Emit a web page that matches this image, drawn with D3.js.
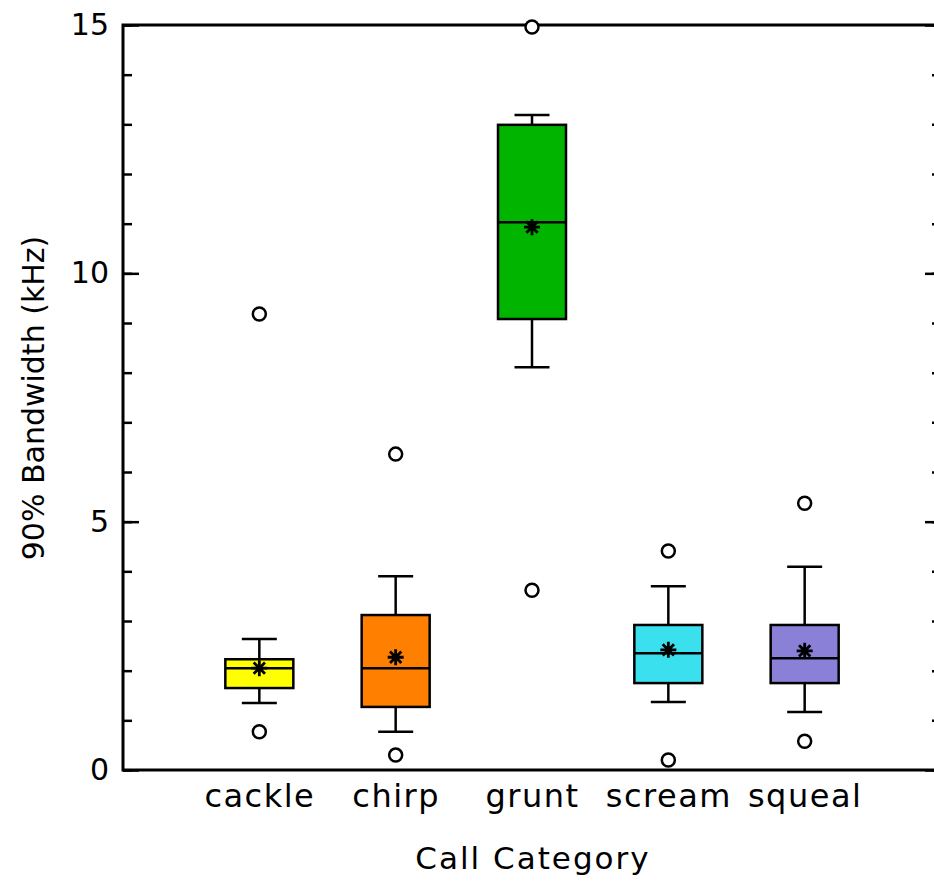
<!DOCTYPE html>
<html>
<head>
<meta charset="utf-8">
<script src="https://cdn.jsdelivr.net/npm/d3@7"></script>
<style>
  html, body { margin: 0; padding: 0; background: #fff; }
  svg { display: block; }
  text { font-family: "DejaVu Sans", sans-serif; fill: #000; }
</style>
</head>
<body>
<svg id="chart" width="934" height="881"></svg>
<script>
const categories = ["cackle", "chirp", "grunt", "scream", "squeal"];
const whiskerLow  = [1.35, 0.77, 8.11, 1.37, 1.17];
const q1          = [1.65, 1.27, 9.08, 1.75, 1.75];
const medians     = [2.05, 2.05, 11.03, 2.35, 2.25];
const q3          = [2.23, 3.12, 12.99, 2.92, 2.92];
const whiskerHigh = [2.64, 3.90, 13.19, 3.70, 4.09];
const means       = [2.05, 2.27, 10.93, 2.42, 2.40];
const outliers    = [[0.77, 9.18], [0.30, 6.36], [3.62, 14.96], [0.20, 4.41], [0.58, 5.37]];
const boxColors   = ["#ffff00", "#ff8000", "#00b400", "#3ae0ee", "#8b80d8"];
const majorTicks  = [0, 5, 10, 15];
const minorTicks  = d3.range(0, 16, 1);
const xTitle = "Call Category";
const yTitle = "90% Bandwidth (kHz)";

const svg = d3.select("#chart");
const x = d3.scaleLinear().domain([0, categories.length + 1]).range([123, 941]);
const y = d3.scaleLinear().domain([0, 15]).range([770, 25]);
const boxW = 68, capW = 35, sw = 2.5;

// minor ticks
svg.append("g").attr("transform", `translate(${x(0)},0)`)
  .call(d3.axisLeft(y).tickValues(minorTicks).tickSize(-9).tickFormat(""))
  .call(g => g.select(".domain").remove())
  .call(g => g.selectAll("line").attr("stroke", "#000").attr("stroke-width", sw));
svg.append("g").attr("transform", `translate(${x(6)},0)`)
  .call(d3.axisRight(y).tickValues(minorTicks).tickSize(-9).tickFormat(""))
  .call(g => g.select(".domain").remove())
  .call(g => g.selectAll("line").attr("stroke", "#000").attr("stroke-width", sw));

// major ticks
svg.append("g").attr("transform", `translate(${x(0)},0)`)
  .call(d3.axisLeft(y).tickValues(majorTicks).tickSize(-16).tickPadding(14).tickFormat(d3.format("d")))
  .call(g => g.select(".domain").remove())
  .call(g => g.selectAll("line").attr("stroke", "#000").attr("stroke-width", sw))
  .call(g => g.selectAll("text").attr("font-size", 30).attr("font-family", "DejaVu Sans").attr("fill", "#000"));
svg.append("g").attr("transform", `translate(${x(6)},0)`)
  .call(d3.axisRight(y).tickValues(majorTicks).tickSize(-16).tickFormat(""))
  .call(g => g.select(".domain").remove())
  .call(g => g.selectAll("line").attr("stroke", "#000").attr("stroke-width", sw));

// frame
svg.append("rect")
  .attr("x", x(0)).attr("y", y(15))
  .attr("width", x(6) - x(0)).attr("height", y(0) - y(15))
  .attr("fill", "none").attr("stroke", "#000").attr("stroke-width", 3);

// category labels
svg.append("g").attr("transform", `translate(0,${y(0)})`)
  .call(d3.axisBottom(x).tickValues(d3.range(1, categories.length + 1)).tickSize(0).tickPadding(14)
    .tickFormat(d => categories[d - 1]))
  .call(g => g.select(".domain").remove())
  .call(g => g.selectAll("text").attr("font-size", 32).attr("letter-spacing", 1.5)
    .attr("font-family", "DejaVu Sans").attr("fill", "#000"));

// boxes
const data = categories.map((c, i) => ({
  c, i, lo: whiskerLow[i], q1: q1[i], med: medians[i], q3: q3[i], hi: whiskerHigh[i],
  mean: means[i], out: outliers[i], color: boxColors[i]
}));
const g = svg.append("g");
const bx = g.selectAll("g.box").data(data).join("g").attr("class", "box");
// whiskers
bx.append("line").attr("x1", d => x(d.i + 1)).attr("x2", d => x(d.i + 1))
  .attr("y1", d => y(d.hi)).attr("y2", d => y(d.q3)).attr("stroke", "#000").attr("stroke-width", sw);
bx.append("line").attr("x1", d => x(d.i + 1)).attr("x2", d => x(d.i + 1))
  .attr("y1", d => y(d.q1)).attr("y2", d => y(d.lo)).attr("stroke", "#000").attr("stroke-width", sw);
bx.append("line").attr("x1", d => x(d.i + 1) - capW / 2).attr("x2", d => x(d.i + 1) + capW / 2)
  .attr("y1", d => y(d.hi)).attr("y2", d => y(d.hi)).attr("stroke", "#000").attr("stroke-width", sw);
bx.append("line").attr("x1", d => x(d.i + 1) - capW / 2).attr("x2", d => x(d.i + 1) + capW / 2)
  .attr("y1", d => y(d.lo)).attr("y2", d => y(d.lo)).attr("stroke", "#000").attr("stroke-width", sw);
// box
bx.append("rect").attr("x", d => x(d.i + 1) - boxW / 2).attr("width", boxW)
  .attr("y", d => y(d.q3)).attr("height", d => y(d.q1) - y(d.q3))
  .attr("fill", d => d.color).attr("stroke", "#000").attr("stroke-width", sw);
// median
bx.append("line").attr("x1", d => x(d.i + 1) - boxW / 2).attr("x2", d => x(d.i + 1) + boxW / 2)
  .attr("y1", d => y(d.med)).attr("y2", d => y(d.med)).attr("stroke", "#000").attr("stroke-width", sw);
// mean asterisk
const starR = 8;
bx.append("path")
  .attr("d", d => {
    const cx = x(d.i + 1), cy = y(d.mean);
    let p = "";
    for (let k = 0; k < 4; k++) {
      const a = k * Math.PI / 4;
      const dx = starR * Math.cos(a), dy = starR * Math.sin(a);
      p += `M${cx - dx},${cy - dy}L${cx + dx},${cy + dy}`;
    }
    return p;
  })
  .attr("stroke", "#000").attr("stroke-width", 2.8).attr("fill", "none");
// outliers
bx.selectAll("circle").data(d => d.out.map(v => ({ i: d.i, v }))).join("circle")
  .attr("cx", d => x(d.i + 1)).attr("cy", d => y(d.v)).attr("r", 6.5)
  .attr("fill", "#fff").attr("stroke", "#000").attr("stroke-width", 2.5);

// titles
svg.append("text").attr("x", 533).attr("y", 869)
  .attr("text-anchor", "middle").attr("font-size", 31).attr("letter-spacing", 2).text(xTitle);
svg.append("text").attr("transform", `translate(44,398) rotate(-90)`)
  .attr("text-anchor", "middle").attr("font-size", 30).text(yTitle);
</script>
</body>
</html>
